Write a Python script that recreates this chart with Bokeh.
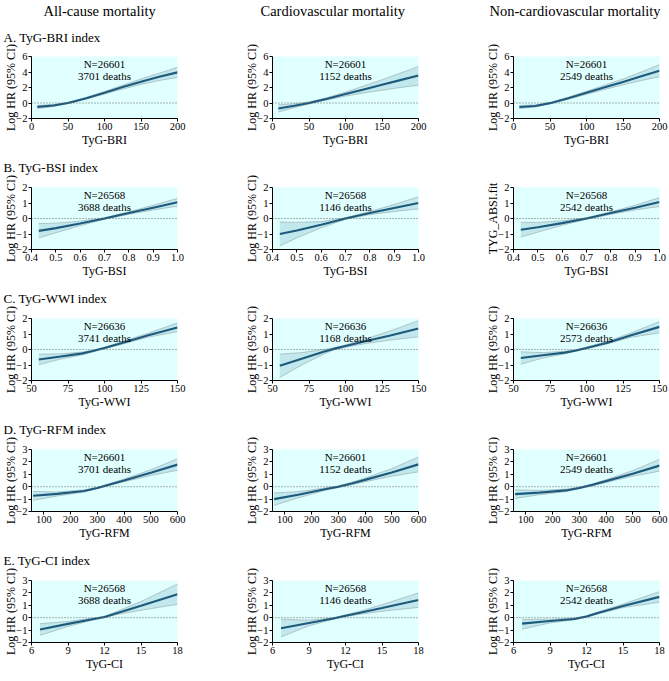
from bokeh.plotting import figure
from bokeh.models import Range1d, FixedTicker, Span, Label, Title, NumeralTickFormatter
from bokeh.layouts import column, row
from bokeh.embed import file_html
from bokeh.resources import INLINE

FONT = "'Liberation Serif', 'Times New Roman', serif"

outcomes = ["All-cause mortality", "Cardiovascular mortality", "Non-cardiovascular mortality"]
row_labels = ["A. TyG-BRI index", "B. TyG-BSI index", "C. TyG-WWI index", "D. TyG-RFM index", "E. TyG-CI index"]
x_titles = ["TyG-BRI", "TyG-BSI", "TyG-WWI", "TyG-RFM", "TyG-CI"]

# axis ranges and ticks per row
x_ranges = [(0, 200), (0.4, 1.0), (50, 150), (54, 600), (6, 18)]
y_ranges = [(-2, 6), (-2, 2), (-2, 2), (-2, 3), (-2, 3)]
x_ticks = [[0, 50, 100, 150, 200], [0.4, 0.5, 0.6, 0.7, 0.8, 0.9, 1.0], [50, 75, 100, 125, 150],
           [100, 200, 300, 400, 500, 600], [6, 9, 12, 15, 18]]
y_ticks = [[-2, 0, 2, 4, 6], [-2, -1, 0, 1, 2], [-2, -1, 0, 1, 2], [-2, -1, 0, 1, 2, 3], [-2, -1, 0, 1, 2, 3]]

# sample sizes and deaths
n_total = ["26601", "26568", "26636", "26601", "26568"]
deaths = [["3701", "1152", "2549"], ["3688", "1146", "2542"], ["3741", "1168", "2573"],
          ["3701", "1152", "2549"], ["3688", "1146", "2542"]]

# ---- A. TyG-BRI ----
bri_x = [8, 30, 50, 75, 100, 125, 150, 175, 200]
bri_all_est = [-0.5, -0.32, 0.0, 0.62, 1.32, 2.05, 2.75, 3.4, 3.95]
bri_all_lo = [-0.72, -0.45, -0.06, 0.52, 1.15, 1.8, 2.4, 2.9, 3.3]
bri_all_hi = [-0.32, -0.2, 0.06, 0.72, 1.48, 2.3, 3.1, 3.85, 4.6]
bri_cvd_est = [-0.72, -0.35, 0.0, 0.55, 1.15, 1.75, 2.35, 2.95, 3.55]
bri_cvd_lo = [-1.15, -0.6, -0.12, 0.4, 0.9, 1.3, 1.65, 2.0, 2.3]
bri_cvd_hi = [-0.25, -0.1, 0.12, 0.7, 1.4, 2.2, 3.0, 3.85, 4.7]
bri_non_est = [-0.52, -0.38, -0.02, 0.62, 1.32, 2.02, 2.72, 3.45, 4.15]
bri_non_lo = [-0.72, -0.5, -0.08, 0.5, 1.12, 1.75, 2.35, 2.9, 3.4]
bri_non_hi = [-0.32, -0.25, 0.05, 0.75, 1.52, 2.3, 3.1, 4.0, 4.95]

# ---- B. TyG-BSI ----
bsi_x = [0.43, 0.5, 0.6, 0.7, 0.8, 0.9, 1.0]
bsi_all_est = [-0.8, -0.62, -0.32, 0.0, 0.35, 0.7, 1.05]
bsi_all_lo = [-1.25, -0.92, -0.46, -0.05, 0.27, 0.55, 0.8]
bsi_all_hi = [-0.33, -0.3, -0.17, 0.05, 0.43, 0.85, 1.3]
bsi_cvd_est = [-1.0, -0.78, -0.4, 0.0, 0.35, 0.68, 1.0]
bsi_cvd_lo = [-1.78, -1.25, -0.6, -0.05, 0.25, 0.45, 0.62]
bsi_cvd_hi = [-0.22, -0.25, -0.2, 0.05, 0.45, 0.9, 1.4]
bsi_non_est = [-0.73, -0.57, -0.3, 0.0, 0.35, 0.7, 1.07]
bsi_non_lo = [-1.2, -0.88, -0.44, -0.05, 0.27, 0.55, 0.78]
bsi_non_hi = [-0.25, -0.25, -0.15, 0.05, 0.43, 0.85, 1.35]

# ---- C. TyG-WWI ----
wwi_x = [55, 70, 85, 92, 100, 115, 130, 150]
wwi_all_est = [-0.64, -0.45, -0.25, -0.1, 0.1, 0.5, 0.92, 1.42]
wwi_all_lo = [-0.98, -0.62, -0.34, -0.15, 0.05, 0.42, 0.8, 1.15]
wwi_all_hi = [-0.3, -0.28, -0.16, -0.05, 0.15, 0.6, 1.05, 1.72]
wwi_cvd_est = [-1.05, -0.6, -0.15, 0.04, 0.22, 0.56, 0.89, 1.35]
wwi_cvd_lo = [-1.8, -1.0, -0.3, -0.02, 0.15, 0.4, 0.6, 0.82]
wwi_cvd_hi = [-0.3, -0.2, 0.0, 0.1, 0.3, 0.72, 1.18, 1.86]
wwi_non_est = [-0.55, -0.37, -0.2, -0.08, 0.1, 0.45, 0.9, 1.46]
wwi_non_lo = [-0.95, -0.55, -0.28, -0.13, 0.05, 0.38, 0.78, 1.08]
wwi_non_hi = [-0.15, -0.2, -0.12, -0.03, 0.15, 0.55, 1.05, 1.8]

# ---- D. TyG-RFM ----
rfm_x = [60, 150, 250, 300, 350, 400, 500, 600]
rfm_all_est = [-0.73, -0.58, -0.35, -0.1, 0.2, 0.5, 1.12, 1.78]
rfm_all_lo = [-1.1, -0.75, -0.43, -0.15, 0.12, 0.4, 0.9, 1.33]
rfm_all_hi = [-0.38, -0.42, -0.27, -0.05, 0.28, 0.62, 1.36, 2.25]
rfm_cvd_est = [-1.0, -0.65, -0.2, 0.0, 0.25, 0.55, 1.15, 1.8]
rfm_cvd_lo = [-1.5, -0.9, -0.3, -0.07, 0.15, 0.4, 0.85, 1.2]
rfm_cvd_hi = [-0.5, -0.4, -0.1, 0.07, 0.35, 0.7, 1.45, 2.4]
rfm_non_est = [-0.6, -0.48, -0.3, -0.1, 0.15, 0.45, 1.05, 1.7]
rfm_non_lo = [-0.95, -0.65, -0.4, -0.16, 0.07, 0.35, 0.85, 1.25]
rfm_non_hi = [-0.25, -0.3, -0.2, -0.04, 0.23, 0.57, 1.3, 2.2]

# ---- E. TyG-CI ----
ci_x = [6.7, 9, 11, 12, 13, 15, 18]
ci_all_est = [-0.95, -0.5, -0.12, 0.05, 0.36, 0.97, 1.9]
ci_all_lo = [-1.42, -0.7, -0.2, 0.0, 0.25, 0.6, 1.08]
ci_all_hi = [-0.48, -0.3, -0.04, 0.1, 0.5, 1.3, 2.72]
ci_cvd_est = [-0.85, -0.43, -0.06, 0.15, 0.36, 0.78, 1.42]
ci_cvd_lo = [-1.55, -0.65, -0.12, 0.08, 0.25, 0.52, 0.83]
ci_cvd_hi = [-0.12, -0.2, 0.0, 0.22, 0.47, 1.05, 2.0]
ci_non_est = [-0.48, -0.27, -0.1, 0.1, 0.4, 0.95, 1.68]
ci_non_lo = [-0.92, -0.42, -0.17, 0.04, 0.32, 0.82, 1.25]
ci_non_hi = [-0.15, -0.12, -0.03, 0.16, 0.48, 1.1, 2.1]

xs = [bri_x, bsi_x, wwi_x, rfm_x, ci_x]
panels = [
    [(bri_all_est, bri_all_lo, bri_all_hi), (bri_cvd_est, bri_cvd_lo, bri_cvd_hi), (bri_non_est, bri_non_lo, bri_non_hi)],
    [(bsi_all_est, bsi_all_lo, bsi_all_hi), (bsi_cvd_est, bsi_cvd_lo, bsi_cvd_hi), (bsi_non_est, bsi_non_lo, bsi_non_hi)],
    [(wwi_all_est, wwi_all_lo, wwi_all_hi), (wwi_cvd_est, wwi_cvd_lo, wwi_cvd_hi), (wwi_non_est, wwi_non_lo, wwi_non_hi)],
    [(rfm_all_est, rfm_all_lo, rfm_all_hi), (rfm_cvd_est, rfm_cvd_lo, rfm_cvd_hi), (rfm_non_est, rfm_non_lo, rfm_non_hi)],
    [(ci_all_est, ci_all_lo, ci_all_hi), (ci_cvd_est, ci_cvd_lo, ci_cvd_hi), (ci_non_est, ci_non_lo, ci_non_hi)],
]

FW, FH = 146, 62
LEFT = 31
PITCH = 241
LINE_COLOR = "#1d5a7c"
BAND_COLOR = "#a6d6df"
BG = "#E0FFFF"
# left offsets of the column titles relative to frame left
title_offset = [12, -12, -24]


def make_panel(r, c):
    x0, x1 = x_ranges[r]
    y0, y1 = y_ranges[r]
    pyu = FH / (y1 - y0)
    right = (PITCH - LEFT - FW) if c < 2 else 9
    p = figure(frame_width=FW, frame_height=FH,
               x_range=Range1d(x0, x1), y_range=Range1d(y0, y1),
               output_backend="svg", toolbar_location=None,
               min_border_left=LEFT, min_border_right=right,
               min_border_top=(56 if r == 0 else 38), min_border_bottom=31)
    p.background_fill_color = BG
    p.border_fill_color = "white"
    p.outline_line_color = None
    p.grid.visible = False

    est, lo, hi = panels[r][c]
    x = xs[r]
    p.varea(x=x, y1=lo, y2=hi, fill_color=BAND_COLOR, fill_alpha=0.55)
    p.line(x, lo, line_color="#a0b0b4", line_width=0.7)
    p.line(x, hi, line_color="#a0b0b4", line_width=0.7)
    p.add_layout(Span(location=0, dimension="width", line_color="#666666",
                      line_dash="1 2", line_width=1))
    p.line(x, est, line_color=LINE_COLOR, line_width=2.1)

    for ax in (p.xaxis[0], p.yaxis[0]):
        ax.axis_line_color = "black"
        ax.major_tick_line_color = "black"
        ax.minor_tick_line_color = None
        ax.major_tick_in = 0
        ax.major_tick_out = 3
        ax.major_label_text_font = FONT
        ax.major_label_text_font_size = "10.5px"
        ax.major_label_text_color = "black"
        ax.axis_label_text_font = FONT
        ax.axis_label_text_font_size = "12px"
        ax.axis_label_text_font_style = "normal"
        ax.axis_label_text_color = "black"
        ax.major_label_standoff = 1
    p.xaxis.axis_label_standoff = 0
    p.yaxis.axis_label_standoff = -5
    p.xaxis.ticker = FixedTicker(ticks=x_ticks[r])
    p.yaxis.ticker = FixedTicker(ticks=y_ticks[r])
    if r == 1:
        p.xaxis.formatter = NumeralTickFormatter(format="0.0")
    p.xaxis.axis_label = x_titles[r]
    p.yaxis.axis_label = "TYG_ABSI.fit" if (r == 1 and c == 2) else "Log HR (95% CI)"

    xm = (x0 + x1) / 2
    p.add_layout(Label(x=xm, y=y1 - 7.5 / pyu, text="N=" + n_total[r], text_align="center",
                       text_baseline="middle", text_font=FONT, text_font_size="11px", text_color="black"))
    p.add_layout(Label(x=xm, y=y1 - 19.5 / pyu, text=deaths[r][c] + " deaths", text_align="center",
                       text_baseline="middle", text_font=FONT, text_font_size="11px", text_color="black"))

    # row label (column 1) or a blank placeholder in the first row
    s = 19 if r == 0 else 21
    if c == 0:
        p.add_layout(Title(text=row_labels[r], align="left", offset=-(LEFT - 3), standoff=s,
                           vertical_align="top", text_font=FONT, text_font_size="13px",
                           text_font_style="normal", text_color="black"), "above")
    elif r == 0:
        p.add_layout(Title(text=" ", align="left", standoff=s, vertical_align="top",
                           text_font=FONT, text_font_size="13px", text_font_style="normal"), "above")
    if r == 0:
        p.add_layout(Title(text=outcomes[c], align="left", offset=title_offset[c], standoff=0,
                           vertical_align="top", text_font=FONT, text_font_size="14.5px",
                           text_font_style="normal", text_color="black"), "above")
    return p


rows = []
for r in range(5):
    rows.append(row(*[make_panel(r, c) for c in range(3)]))
layout = column(*rows)

open("out.html", "w").write(file_html(layout, INLINE))
